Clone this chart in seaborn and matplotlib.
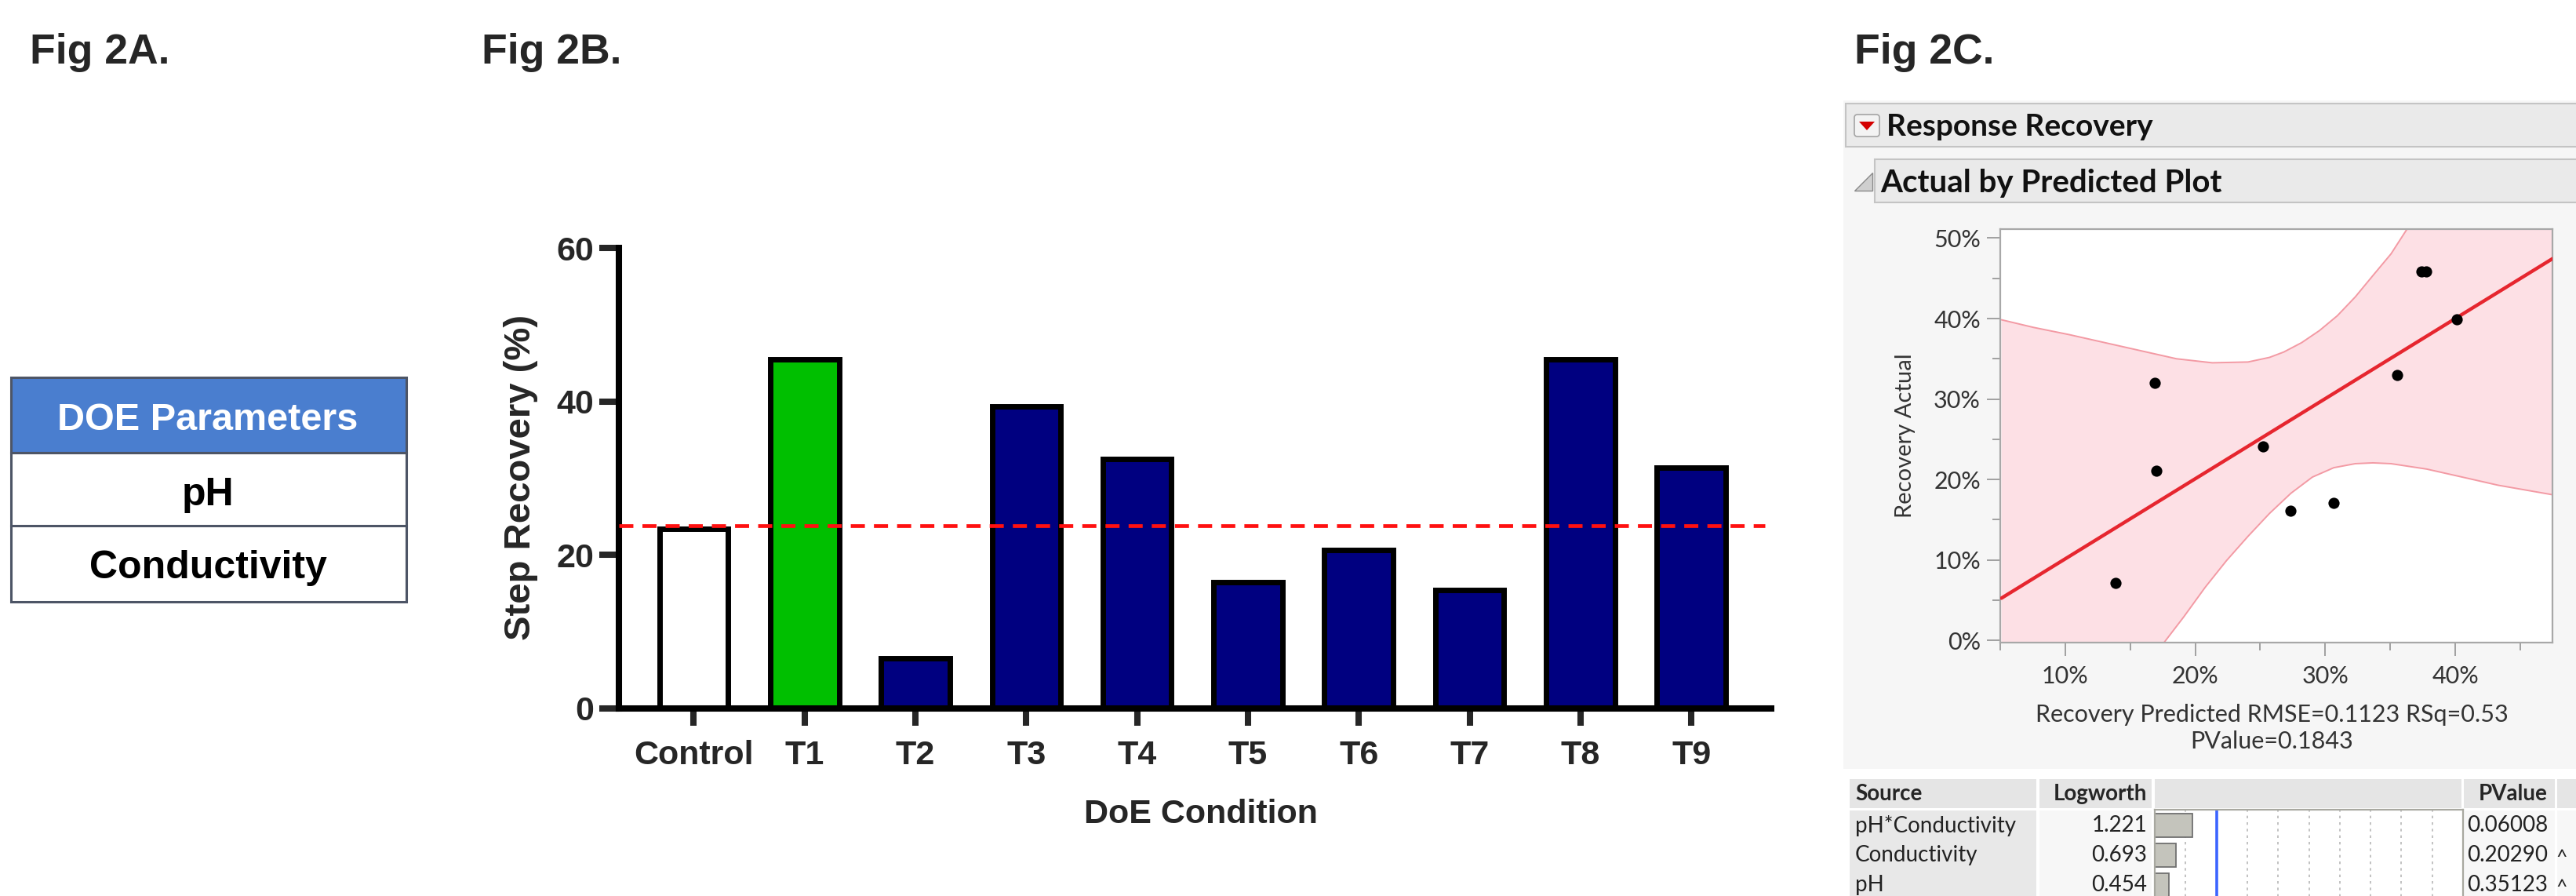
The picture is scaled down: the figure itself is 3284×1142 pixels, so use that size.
import matplotlib
matplotlib.use("Agg")
import matplotlib.pyplot as plt
from matplotlib.patches import Rectangle, Polygon, FancyBboxPatch
import seaborn as sns

W, H = 3284, 1142

# ---- Fig 2A: parameter table ----
table_header = "DOE Parameters"
table_rows = ["pH", "Conductivity"]

# ---- Fig 2B: step recovery per DoE condition ----
conditions = ["Control", "T1", "T2", "T3", "T4", "T5", "T6", "T7", "T8", "T9"]
recovery = [23.4, 45.5, 6.5, 39.4, 32.5, 16.5, 20.6, 15.4, 45.5, 31.4]
bar_colors = ["white", "#00bf00"] + ["#000080"] * 8
control_level = 23.8
b_yticks = [0, 20, 40, 60]

# ---- Fig 2C: JMP actual by predicted ----
predicted = [13.89, 16.86, 17.02, 25.24, 27.30, 30.66, 35.55, 37.40, 37.76, 40.11]
actual = [7.18, 32.0, 21.09, 24.07, 16.08, 17.11, 33.0, 45.84, 45.84, 39.92]
fit_x = [5.09, 47.48]
fit_y = [5.24, 47.44]
upper_x = [5.09, 7.56, 10.31, 13.06, 15.81, 18.56, 21.31, 24.06, 25.71, 26.81,
           28.18, 29.56, 30.93, 32.31, 33.68, 35.06, 36.29]
upper_y = [39.85, 38.9, 38.0, 37.0, 36.0, 35.0, 34.5, 34.6, 35.17, 35.84,
           37.0, 38.51, 40.35, 42.69, 45.37, 48.04, 51.12]
lower_x = [17.6, 19.11, 20.76, 22.41, 24.06, 25.71, 27.36, 29.01, 30.66, 32.31,
           33.68, 35.06, 37.8, 40.55, 43.3, 47.48]
lower_y = [-0.28, 2.9, 6.58, 9.92, 12.93, 15.77, 18.28, 20.29, 21.46, 21.96,
           22.06, 21.96, 21.29, 20.29, 19.28, 18.1]
c_xlim = (5.09, 47.48)
c_ylim = (-0.28, 51.12)
c_xticks = [10, 20, 30, 40]
c_xminor = [5, 15, 25, 35, 45]
c_yticks = [0, 10, 20, 30, 40, 50]
c_yminor = [5, 15, 25, 35, 45]
fit_note = "Recovery Predicted RMSE=0.1123 RSq=0.53\nPValue=0.1843"

# effect summary
sources = ["pH*Conductivity", "Conductivity", "pH"]
logworth = [1.221, 0.693, 0.454]
pvalues = ["0.06008", "0.20290", "0.35123"]
pflags = ["", "^", "^"]

sns.set_style("white")
plt.rcParams["font.family"] = ["Liberation Sans", "DejaVu Sans"]


def rect(x0, y0, x1, y1):
    # pixel box -> figure fraction [left, bottom, width, height]
    return [x0 / W, 1 - y1 / H, (x1 - x0) / W, (y1 - y0) / H]


fig = plt.figure(figsize=(W / 100, H / 100), dpi=100)
fig.patch.set_facecolor("white")

# background layer in pixel coordinates
bg = fig.add_axes([0, 0, 1, 1], zorder=0)
bg.set_xlim(0, W)
bg.set_ylim(H, 0)
bg.axis("off")

for txt, x in [("Fig 2A.", 38), ("Fig 2B.", 614), ("Fig 2C.", 2364)]:
    bg.text(x, 81, txt, fontsize=38.5, fontweight="bold", va="baseline", ha="left")

# ---- table A ----
bg.add_patch(Rectangle((14, 481), 504, 96, fc="#4a7ecf", ec="#4d5566", lw=2.2))
bg.add_patch(Rectangle((14, 577), 504, 93, fc="white", ec="#4d5566", lw=2.2))
bg.add_patch(Rectangle((14, 670), 504, 97, fc="white", ec="#4d5566", lw=2.2))
bg.text(265, 548, table_header, fontsize=35, fontweight="bold", color="white",
        ha="center", va="baseline")
for txt, base in zip(table_rows, [644, 737]):
    bg.text(265, base, txt, fontsize=36, fontweight="bold", color="black",
            ha="center", va="baseline")

# ---- JMP window chrome ----
jmp = ["Lato", "DejaVu Sans"]
bg.add_patch(Rectangle((2350, 128), 940, 852, fc="#f6f6f6", ec="none"))
bg.add_patch(Rectangle((2353, 132), 940, 55, fc="#eaeaea", ec="#c4c4c4", lw=1.5))
bg.add_patch(FancyBboxPatch((2364, 146), 32, 28, boxstyle="round,pad=0,rounding_size=4",
                            fc="#f3f3f3", ec="#a4a4a4", lw=1.2))
bg.add_patch(Polygon([(2370, 155), (2390, 155), (2380, 166)], fc="#d40000", ec="none"))
bg.text(2405, 173, "Response Recovery", family=jmp, fontsize=28, fontweight="bold",
        va="baseline", color="#111111")
bg.add_patch(Rectangle((2390, 203), 900, 55, fc="#eaeaea", ec="#c4c4c4", lw=1.5))
bg.add_patch(Polygon([(2364, 243), (2387, 243), (2387, 220)], fc="#cfcfcf",
                     ec="#8a8a8a", lw=1))
bg.text(2397, 245, "Actual by Predicted Plot", family=jmp, fontsize=29,
        fontweight="bold", va="baseline", color="#111111")

# effect summary table cells
bg.add_patch(Rectangle((2350, 980), 940, 170, fc="white", ec="none"))
for x0, x1 in [(2358, 2596), (2600, 2743), (2747, 3138), (3141, 3257), (3260, 3300)]:
    bg.add_patch(Rectangle((x0, 993), x1 - x0, 37, fc="#e5e5e5", ec="none"))
bg.add_patch(Rectangle((2358, 1033), 238, 120, fc="#e8e8e8", ec="none"))
bg.add_patch(Rectangle((2600, 1033), 143, 120, fc="#f7f7f7", ec="none"))
bg.add_patch(Rectangle((3141, 1033), 116, 120, fc="#f7f7f7", ec="none"))
bg.add_patch(Rectangle((3260, 1033), 40, 120, fc="#f7f7f7", ec="none"))
bg.text(2365, 1012, "Source", family=jmp, fontsize=20, fontweight="bold", va="center")
bg.text(2737, 1012, "Logworth", family=jmp, fontsize=20, fontweight="bold",
        va="center", ha="right")
bg.text(3248, 1012, "PValue", family=jmp, fontsize=20, fontweight="bold",
        va="center", ha="right")
for i, (s, lw_, p, f) in enumerate(zip(sources, logworth, pvalues, pflags)):
    yy = 1052 + 38 * i
    bg.text(2365, yy, s, family=jmp, fontsize=20, va="center", color="#222222")
    bg.text(2737, yy, f"{lw_:.3f}", family=jmp, fontsize=20, va="center",
            ha="right", color="#222222")
    bg.text(3248, yy, p, family=jmp, fontsize=20, va="center", ha="right",
            color="#222222")
    bg.text(3266, yy + 4, f, family=jmp, fontsize=18, va="center", ha="center",
            color="#222222")

# ---- Fig 2B bar chart ----
axb = fig.add_axes(rect(789, 316, 2258, 903), zorder=2)
axb.patch.set_alpha(0)
sns.barplot(x=conditions, y=recovery, hue=conditions, palette=bar_colors,
            saturation=1, width=0.62, edgecolor="black", linewidth=5,
            legend=False, ax=axb)
axb.plot([-0.675, 9.66], [control_level, control_level], color="#ff1010",
         lw=3.4, ls=(0, (3.8, 2.45)), zorder=4)
axb.set_xlim(-0.675, 9.72)
axb.set_ylim(0, 60)
axb.set_yticks(b_yticks)
for side in ["top", "right"]:
    axb.spines[side].set_visible(False)
for side in ["left", "bottom"]:
    axb.spines[side].set_linewidth(5.8)
    axb.spines[side].set_color("black")
    axb.spines[side].set_capstyle("projecting")
axb.tick_params(axis="y", direction="out", length=18, width=5.8, pad=5,
                labelsize=31, left=True)
axb.tick_params(axis="x", direction="out", length=16, width=5.8, pad=13,
                labelsize=31, bottom=True)
for lbl in axb.get_xticklabels() + axb.get_yticklabels():
    lbl.set_fontweight("bold")
axb.set_ylabel("Step Recovery (%)", fontsize=34, fontweight="bold", va="center")
axb.yaxis.set_label_coords((664 - 789) / 1469, (903 - 608) / 587)
axb.set_xlabel("DoE Condition", fontsize=31, fontweight="bold", va="center")
axb.xaxis.set_label_coords((1531 - 789) / 1469, (903 - 1038) / 587)

# ---- Fig 2C actual by predicted ----
axc = fig.add_axes(rect(2550, 292, 3254, 819), zorder=2)
axc.set_facecolor("white")
band_x = upper_x + [c_xlim[1]] + lower_x[::-1] + [c_xlim[0]]
band_y = upper_y + [c_ylim[1]] + lower_y[::-1] + [c_ylim[0]]
axc.fill(band_x, band_y, color="#fde0e5", lw=0, zorder=1)
sns.lineplot(x=upper_x, y=upper_y, color="#f39aa4", lw=1.4, sort=False,
             estimator=None, ax=axc, zorder=2)
sns.lineplot(x=lower_x, y=lower_y, color="#f39aa4", lw=1.4, sort=False,
             estimator=None, ax=axc, zorder=2)
sns.lineplot(x=fit_x, y=fit_y, color="#e6262f", lw=3.2, sort=False,
             estimator=None, ax=axc, zorder=3)
sns.scatterplot(x=predicted, y=actual, color="black", s=105, linewidth=0,
                ax=axc, zorder=5)
axc.set_xlim(*c_xlim)
axc.set_ylim(*c_ylim)
axc.set_xticks(c_xticks)
axc.set_xticklabels([f"{t}%" for t in c_xticks])
axc.set_xticks(c_xminor, minor=True)
axc.set_yticks(c_yticks)
axc.set_yticklabels([f"{t}%" for t in c_yticks])
axc.set_yticks(c_yminor, minor=True)
for sp in axc.spines.values():
    sp.set_color("#a8a8a8")
    sp.set_linewidth(1.6)
axc.tick_params(which="major", direction="out", length=12, width=1.3,
                color="#9a9a9a", labelsize=22, labelcolor="#333333",
                left=True, bottom=True)
axc.tick_params(which="minor", direction="out", length=7, width=1.3,
                color="#9a9a9a", left=True, bottom=True)
axc.tick_params(axis="y", pad=6)
axc.tick_params(axis="x", pad=9)
for lbl in axc.get_xticklabels() + axc.get_yticklabels():
    lbl.set_family(jmp)
axc.set_ylabel("Recovery Actual", family=jmp, fontsize=21, color="#333333",
               va="center")
axc.yaxis.set_label_coords((2429 - 2550) / 704, (819 - 555) / 527)
axc.set_xlabel(fit_note, family=jmp, fontsize=22, color="#333333", va="center",
               linespacing=1.3)
axc.xaxis.set_label_coords((2896 - 2550) / 704, (819 - 928) / 527)

# ---- logworth bars ----
axl = fig.add_axes(rect(2747, 1032, 3140, 1185), zorder=2)
axl.set_facecolor("white")
for v in [1, 3, 4, 5, 6, 7, 8, 9]:
    axl.axvline(v, color="#b8b8b8", lw=1.2, ls=(0, (2, 3)), zorder=0.5)
axl.axvline(2, color="#3b64ff", lw=2.6, zorder=0.6)
sns.barplot(x=logworth, y=sources, orient="h", color="#c4c4bc", saturation=1,
            width=0.78, edgecolor="#707070", linewidth=1.3, ax=axl, zorder=2)
axl.set_xlim(0, 10)
axl.set_ylim(3.5, -0.526)
axl.set_xticks([])
axl.set_yticks([])
axl.set_xlabel("")
axl.set_ylabel("")
for sp in axl.spines.values():
    sp.set_color("#a8a8a0")
    sp.set_linewidth(1.6)

fig.savefig("out.png", dpi=100)
